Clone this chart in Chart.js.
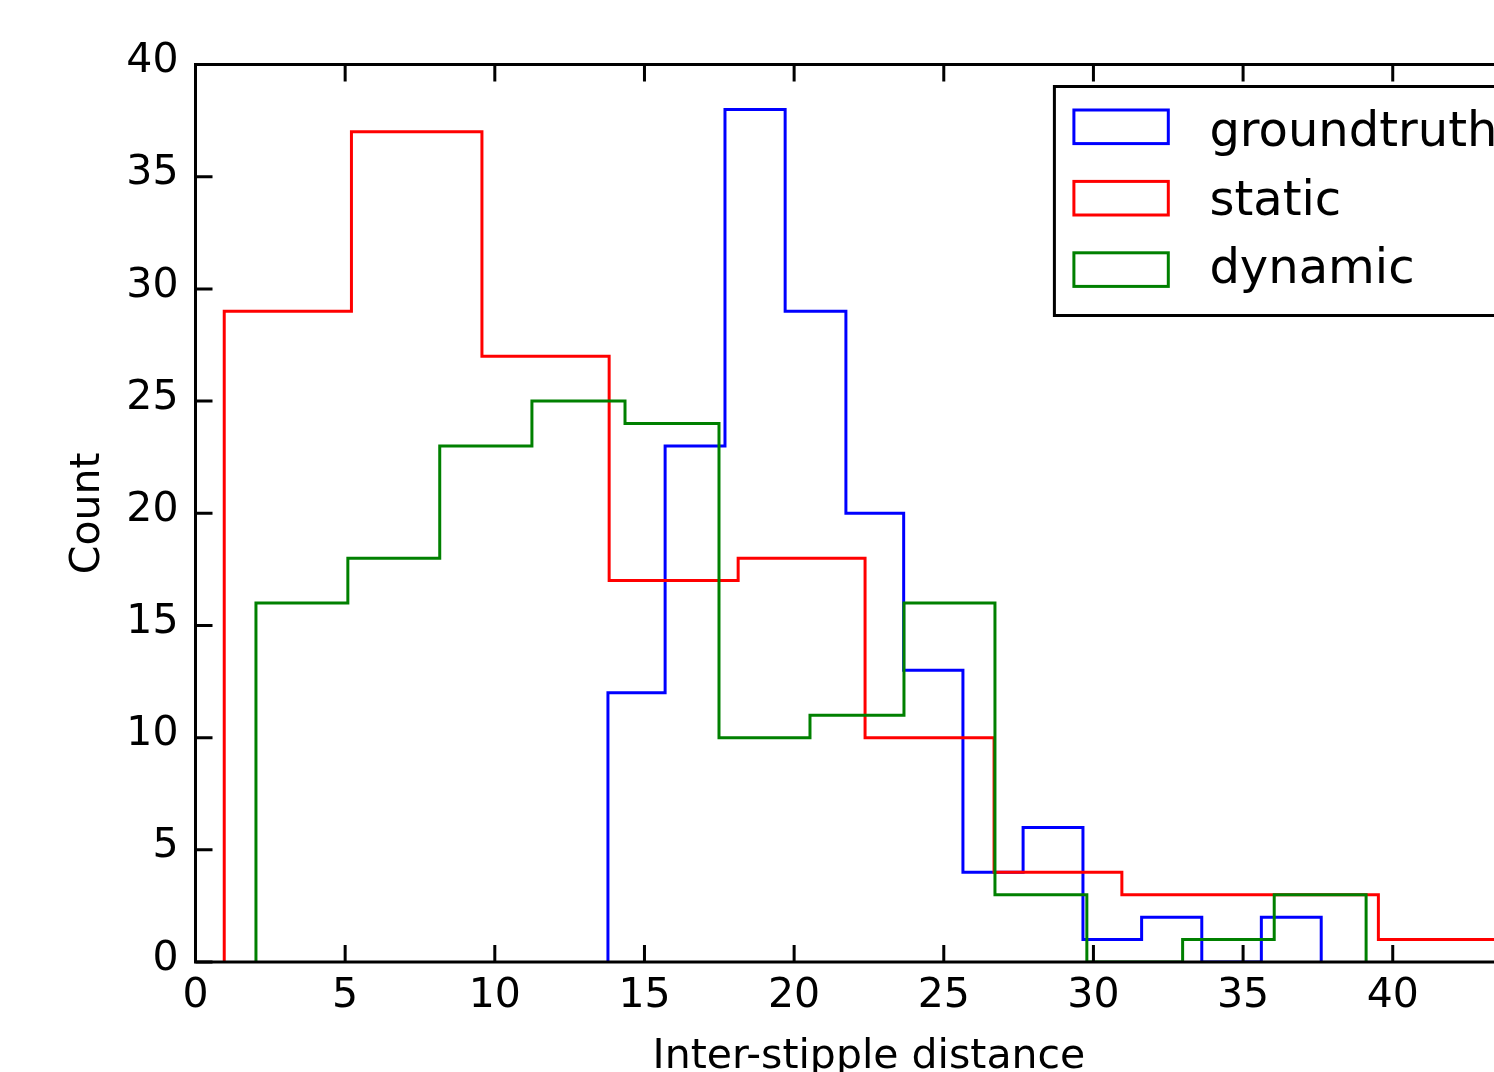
<!DOCTYPE html>
<html>
<head>
<meta charset="utf-8">
<script src="https://cdn.jsdelivr.net/npm/chart.js"></script>
<style>
html,body{margin:0;padding:0;background:#fff;overflow:hidden;}
#wrap{position:relative;width:1494px;height:1072px;overflow:hidden;background:#fff;}
#c{position:absolute;left:0;top:0;}
</style>
</head>
<body>
<div id="wrap"><canvas id="c" width="1560" height="1072" style="width:1560px;height:1072px"></canvas></div>
<script>
// ---- data ----
const seriesNames = ['groundtruth', 'static', 'dynamic'];
const seriesColors = ['#0000ff', '#ff0000', '#008000'];

const groundtruthEdges  = [13.78, 15.69, 17.69, 19.70, 21.73, 23.66, 25.64, 27.65, 29.65, 31.61, 33.62, 35.61, 37.61];
const groundtruthCounts = [12, 23, 38, 29, 20, 13, 4, 6, 1, 2, 0, 2];

const staticEdges  = [0.96, 5.21, 9.57, 13.82, 18.13, 22.37, 26.68, 30.95, 35.23, 39.52, 43.80];
const staticCounts = [29, 37, 27, 17, 18, 10, 4, 3, 3, 1];

const dynamicEdges  = [2.02, 5.09, 8.16, 11.24, 14.35, 17.49, 20.53, 23.67, 26.71, 29.78, 32.98, 36.04, 39.11];
const dynamicCounts = [16, 18, 23, 25, 24, 10, 11, 16, 3, 0, 1, 3];

const xTickValues = [0, 5, 10, 15, 20, 25, 30, 35, 40, 45];
const xTickLabels = ['0', '5', '10', '15', '20', '25', '30', '35', '40', '45'];
const yTickValues = [0, 5, 10, 15, 20, 25, 30, 35, 40];
const yTickLabels = ['0', '5', '10', '15', '20', '25', '30', '35', '40'];

const xTitle = 'Inter-stipple distance';
const yTitle = 'Count';

// ---- helpers ----
function stepPoints(edges, counts) {
  const pts = [{x: edges[0], y: 0}];
  counts.forEach((c, i) => {
    pts.push({x: edges[i], y: c});
    pts.push({x: edges[i + 1], y: c});
  });
  pts.push({x: edges[edges.length - 1], y: 0});
  return pts;
}

const FONT = '"DejaVu Sans", "Liberation Sans", sans-serif';

const framePlugin = {
  id: 'frame',
  afterDatasetsDraw(chart) {
    const ctx = chart.ctx;
    const a = chart.chartArea;
    const xs = chart.scales.x, ys = chart.scales.y;
    ctx.save();
    ctx.strokeStyle = '#000';
    ctx.lineWidth = 3;
    ctx.lineCap = 'butt';
    // inward ticks on all four sides
    ctx.beginPath();
    xs.ticks.forEach(t => {
      const p = xs.getPixelForValue(t.value);
      ctx.moveTo(p, a.bottom); ctx.lineTo(p, a.bottom - 17);
      ctx.moveTo(p, a.top); ctx.lineTo(p, a.top + 17);
    });
    ys.ticks.forEach(t => {
      const p = ys.getPixelForValue(t.value);
      ctx.moveTo(a.left, p); ctx.lineTo(a.left + 17, p);
      ctx.moveTo(a.right, p); ctx.lineTo(a.right - 17, p);
    });
    ctx.stroke();
    ctx.lineJoin = 'miter';
    ctx.strokeRect(a.left, a.top, a.right - a.left, a.bottom - a.top);

    // axis titles
    ctx.fillStyle = '#000';
    ctx.font = '41px ' + FONT;
    ctx.textAlign = 'center';
    ctx.textBaseline = 'alphabetic';
    ctx.fillText(xTitle, (a.left + a.right) / 2, a.bottom + 106);
    ctx.save();
    ctx.translate(99, (a.top + a.bottom) / 2);
    ctx.rotate(-Math.PI / 2);
    ctx.fillText(yTitle, 0, 0);
    ctx.restore();

    // legend (upper right, inside axes)
    const lw = 464, lright = a.right - 24, ltop = a.top + 22;
    const lleft = lright - lw, lbottom = ltop + 229;
    ctx.fillStyle = '#fff';
    ctx.fillRect(lleft, ltop, lw, lbottom - ltop);
    ctx.strokeStyle = '#000';
    ctx.lineWidth = 3;
    ctx.strokeRect(lleft, ltop, lw, lbottom - ltop);
    ctx.font = '48px ' + FONT;
    ctx.textAlign = 'left';
    ctx.textBaseline = 'alphabetic';
    chart.data.datasets.forEach((ds, i) => {
      const cy = ltop + 40.3 + i * 71.4;
      ctx.strokeStyle = ds.borderColor;
      ctx.lineWidth = 3;
      ctx.strokeRect(lleft + 19.5, cy - 16.8, 94.4, 33.6);
      ctx.fillStyle = '#000';
      ctx.fillText(ds.label, lleft + 155, ltop + 59.7 + i * 68.6);
    });
    ctx.restore();
  }
};

const edgesList = [groundtruthEdges, staticEdges, dynamicEdges];
const countsList = [groundtruthCounts, staticCounts, dynamicCounts];

const datasets = seriesNames.map((name, i) => ({
  label: name,
  data: stepPoints(edgesList[i], countsList[i]),
  borderColor: seriesColors[i],
  backgroundColor: seriesColors[i],
  borderWidth: 3,
  pointRadius: 0,
  tension: 0,
  fill: false,
  borderJoinStyle: 'miter',
  borderCapStyle: 'butt',
  order: seriesNames.length - i
}));

new Chart(document.getElementById('c'), {
  type: 'line',
  data: { datasets },
  options: {
    responsive: false,
    animation: false,
    devicePixelRatio: 1,
    parsing: false,
    layout: { padding: { top: 64.5, right: 17.6, bottom: 0, left: 0 } },
    plugins: { legend: { display: false }, tooltip: { enabled: false } },
    scales: {
      x: {
        type: 'linear', min: 0, max: 45,
        grid: { display: false, drawTicks: false },
        border: { display: false },
        afterBuildTicks: s => { s.ticks = xTickValues.map(v => ({ value: v })); },
        afterFit: s => { s.height = 110; s.paddingLeft = 0; s.paddingRight = 0; },
        ticks: {
          font: { family: FONT, size: 41 }, color: '#000', padding: 10,
          maxRotation: 0, minRotation: 0, autoSkip: false,
          callback: (v, i) => xTickLabels[i]
        }
      },
      y: {
        type: 'linear', min: 0, max: 40,
        grid: { display: false, drawTicks: false },
        border: { display: false },
        afterBuildTicks: s => { s.ticks = yTickValues.map(v => ({ value: v })); },
        afterFit: s => { s.width = 195.5; s.paddingTop = 0; s.paddingBottom = 0; },
        ticks: {
          font: { family: FONT, size: 41 }, color: '#000', padding: 17, labelOffset: -3,
          autoSkip: false,
          callback: (v, i) => yTickLabels[i]
        }
      }
    }
  },
  plugins: [framePlugin]
});
</script>
</body>
</html>
